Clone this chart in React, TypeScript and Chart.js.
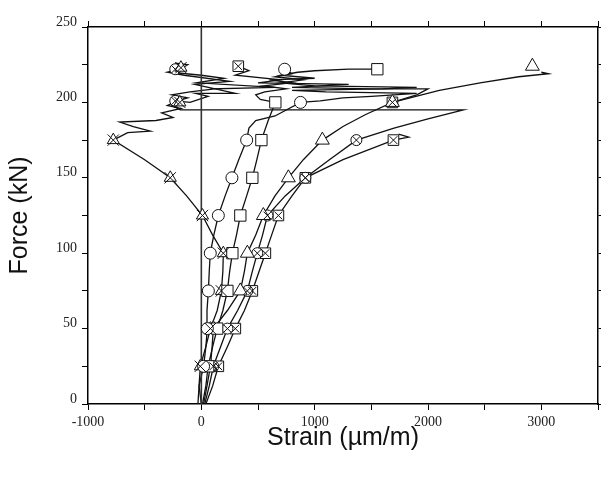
import React, { useEffect, useRef } from "react";
import { Chart, registerables } from "chart.js";

Chart.register(...registerables);

// x: strain (µm/m), y: force (kN)
const xTicks = { min: -1000, max: 3500, step: 500, labelEvery: 1000 };
const yTicks = { min: 0, max: 250, step: 25, labelEvery: 50 };

const zeroLine = [[0, 0], [0, 250]];

const circlePath = [[0,0],[-20,12],[20,25],[40,38],[53,50],[50,62],[62,75],[70,88],[79,100],[110,112],[150,125],[210,138],[270,150],[330,162],[400,175],[420,183],[480,188],[650,191],[875,200],[1050,201],[1250,203],[1500,204],[1900,206],[1100,207],[800,208],[1600,209],[1900,210],[1000,211],[700,213],[900,215],[650,217],[800,219],[735,222]];
const circleMarkStrain = [20, 53, 62, 79, 150, 270, 400, 875, 735];
const circleMarkForce = [25, 50, 75, 100, 125, 150, 175, 200, 222];

const squarePath = [[10,0],[40,12],[60,25],[100,38],[140,50],[190,62],[230,75],[250,88],[274,100],[310,112],[344,125],[400,138],[450,150],[490,162],[530,175],[590,188],[653,200],[520,202],[480,205],[560,207],[750,209],[550,211],[800,213],[600,215],[1000,216],[700,218],[850,220],[1000,221],[1300,222],[1553,222]];
const squareMarkStrain = [60, 140, 230, 274, 344, 450, 530, 653, 1553];
const squareMarkForce = [25, 50, 75, 100, 125, 150, 175, 200, 222];

const trianglePath = [[20,0],[50,12],[80,25],[95,38],[106,50],[230,62],[344,75],[380,88],[406,100],[480,112],[547,125],[650,138],[768,150],[900,162],[1068,175],[1250,184],[1450,192],[1686,200],[2100,208],[2460,213],[2800,217],[3063,219],[3000,220]];
const triangleMarkStrain = [80, 106, 344, 406, 547, 768, 1068, 1686, 2921];
const triangleMarkForce = [25, 50, 75, 100, 125, 150, 175, 200, 224];

const crossTriPath = [[-30,0],[-20,12],[-9,25],[40,38],[80,50],[140,62],[177,75],[190,88],[194,100],[100,112],[10,125],[-130,138],[-274,150],[-500,162],[-777,175],[-650,180],[-450,181],[-600,184],[-720,187],[-400,188],[-250,190],[-350,193],[-180,196],[-300,198],[-212,201],[-120,203],[-260,205],[-100,207],[120,209],[-60,212],[250,214],[-150,218],[-300,220],[-185,222],[-120,225],[-230,226]];
const crossTriMarkStrain = [-9, 80, 177, 194, 10, -274, -777, -190, -180];
const crossTriMarkForce = [25, 50, 75, 100, 125, 150, 175, 200, 223];

const crossCirclePath = [[30,0],[70,12],[106,25],[170,38],[230,50],[320,62],[406,75],[450,88],[494,100],[540,112],[583,125],[740,138],[918,150],[1130,162],[1368,175],[1700,183],[2000,189],[2313,195],[-185,195],[-260,198],[-230,201],[-100,200],[60,204],[-50,206],[300,206],[120,209],[650,210],[-40,213],[200,216],[0,218],[-270,220],[-230,222],[-150,224]];
const crossCircleMarkStrain = [106, 230, 406, 494, 583, 918, 1368, -230, -230];
const crossCircleMarkForce = [25, 50, 75, 100, 125, 150, 175, 201, 222];

// null = gap in the recorded trace
const crossSquarePath = [[40,0],[100,12],[150,25],[230,38],[300,50],[380,62],[450,75],[510,88],[565,100],[620,112],[680,125],[800,138],[918,150],[1250,162],[1695,175],[1830,177],[1740,179],null,[1686,200],[1900,205],[2000,209],[1500,209],[800,210],[1300,212],[500,213],[700,215],[300,218],[420,221],[326,224]];
const crossSquareMarkStrain = [150, 300, 450, 565, 680, 918, 1695, 1686, 326];
const crossSquareMarkForce = [25, 50, 75, 100, 125, 150, 175, 200, 224];

const xTitle = "Strain (µm/m)";
const yTitle = "Force (kN)";

const toPts = (path: (number[] | null)[]) =>
  path.map((p) => (p ? { x: p[0], y: p[1] } : { x: NaN, y: NaN }));
const zipPts = (xs: number[], ys: number[]) => xs.map((x, i) => ({ x, y: ys[i] }));

const INK = "#111";

function pathDs(path: (number[] | null)[], width = 1.3, color = INK) {
  return {
    type: "scatter" as const,
    data: toPts(path),
    showLine: true,
    spanGaps: false,
    borderColor: color,
    borderWidth: width,
    pointRadius: 0,
    fill: false,
    tension: 0,
    order: 10,
  };
}

function markDs(xs: number[], ys: number[], style: string, radius: number, order = 0, fill = "#fff") {
  return {
    type: "scatter" as const,
    data: zipPts(xs, ys),
    showLine: false,
    pointStyle: style,
    pointRadius: radius,
    pointBackgroundColor: fill,
    pointBorderColor: INK,
    pointBorderWidth: 1,
    order,
  };
}

export default function App() {
  const ref = useRef<HTMLCanvasElement | null>(null);

  useEffect(() => {
    if (!ref.current) return;
    const tickFont = { family: "'Liberation Serif', serif", size: 14 };
    const titleFont = { family: "'Liberation Sans', Arial, sans-serif", size: 25 };
    const grid = {
      drawOnChartArea: false,
      drawTicks: true,
      tickLength: 6,
      color: "#000",
      lineWidth: 1,
    };
    const border = { display: true, color: "#000", width: 1.5 };
    const noPad = (s: any) => {
      s.paddingLeft = 0;
      s.paddingRight = 0;
    };

    const datasets: any[] = [
      pathDs(zeroLine, 1.6, "#333"),
      pathDs(circlePath),
      pathDs(squarePath),
      pathDs(trianglePath),
      pathDs(crossTriPath),
      pathDs(crossCirclePath),
      pathDs(crossSquarePath),
      markDs(circleMarkStrain, circleMarkForce, "circle", 6),
      markDs(squareMarkStrain, squareMarkForce, "rect", 8),
      markDs(triangleMarkStrain, triangleMarkForce, "triangle", 8),
      markDs(crossTriMarkStrain, crossTriMarkForce, "triangle", 7),
      markDs(crossTriMarkStrain, crossTriMarkForce, "crossRot", 8, -1, "rgba(0,0,0,0)"),
      markDs(crossCircleMarkStrain, crossCircleMarkForce, "circle", 5.5),
      markDs(crossCircleMarkStrain, crossCircleMarkForce, "crossRot", 5.5, -1, "rgba(0,0,0,0)"),
      markDs(crossSquareMarkStrain, crossSquareMarkForce, "rect", 7.5),
      markDs(crossSquareMarkStrain, crossSquareMarkForce, "crossRot", 5.5, -1, "rgba(0,0,0,0)"),
    ];

    const chart = new Chart(ref.current, {
      type: "scatter",
      data: { datasets },
      options: {
        responsive: false,
        animation: false,
        events: [],
        layout: { padding: 0, autoPadding: false },
        plugins: { legend: { display: false }, tooltip: { enabled: false } },
        scales: {
          x: {
            type: "linear",
            position: "bottom",
            min: xTicks.min,
            max: xTicks.max,
            grid,
            border,
            ticks: {
              stepSize: xTicks.step,
              autoSkip: false,
              maxRotation: 0,
              padding: 4,
              color: "#222",
              font: tickFont,
              callback: (v: any) => (Number(v) % xTicks.labelEvery === 0 ? String(v) : ""),
            },
            title: {
              display: true,
              text: xTitle,
              color: INK,
              font: titleFont,
              padding: { top: 0, bottom: 26 },
            },
            afterFit: (s: any) => {
              s.height = 75;
              noPad(s);
            },
          },
          x2: {
            type: "linear",
            position: "top",
            min: xTicks.min,
            max: xTicks.max,
            grid,
            border,
            ticks: { display: false, stepSize: xTicks.step, autoSkip: false },
            afterFit: (s: any) => {
              s.height = 27;
              noPad(s);
            },
          },
          y: {
            type: "linear",
            position: "left",
            min: yTicks.min,
            max: yTicks.max,
            grid,
            border,
            ticks: {
              stepSize: yTicks.step,
              autoSkip: false,
              padding: 5,
              labelOffset: -5,
              color: "#222",
              font: tickFont,
              callback: (v: any) => (Number(v) % yTicks.labelEvery === 0 ? String(v) : ""),
            },
            title: {
              display: true,
              text: yTitle,
              color: INK,
              font: titleFont,
              padding: { top: 5, bottom: 0 },
            },
            afterFit: (s: any) => {
              s.width = 88;
            },
          },
          y2: {
            type: "linear",
            position: "right",
            min: yTicks.min,
            max: yTicks.max,
            grid,
            border,
            ticks: { display: false, stepSize: yTicks.step, autoSkip: false },
            afterFit: (s: any) => {
              s.width = 3;
            },
          },
        },
      } as any,
    });
    return () => chart.destroy();
  }, []);

  return (
    <div style={{ position: "absolute", left: 0, top: 0, width: 601, height: 479, background: "#fff" }}>
      <canvas ref={ref} width={601} height={479} style={{ width: 601, height: 479, display: "block" }} />
    </div>
  );
}
